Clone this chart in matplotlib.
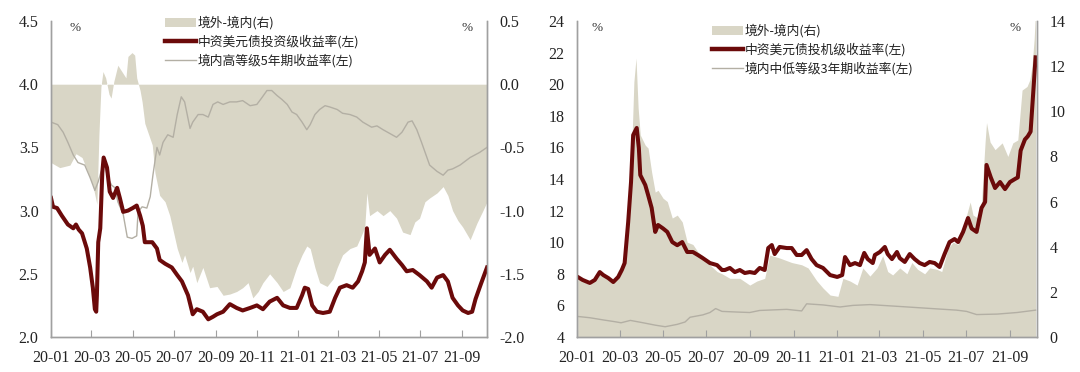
import pandas as pd
import matplotlib.pyplot as plt
import matplotlib.dates as mdates
from matplotlib.patches import Patch
from matplotlib.lines import Line2D

plt.rcParams['axes.unicode_minus'] = False

# --- colours / fonts ---
FILL = '#d9d6c6'
RED = '#6b0a0a'
GRAY = '#b3afa4'
SPINE = '#a0a0a0'
SERIF = 'Liberation Serif'
CJK = ['Noto Sans CJK SC', 'DejaVu Sans']

# --- left panel: investment grade ---
ig_dates = ['2020-01-01', '2020-01-04', '2020-01-10', '2020-01-17', '2020-01-26', '2020-02-03', '2020-02-07',
            '2020-02-11', '2020-02-16', '2020-02-23', '2020-02-28', '2020-03-03', '2020-03-06', '2020-03-08',
            '2020-03-09', '2020-03-11', '2020-03-14', '2020-03-17', '2020-03-19', '2020-03-24', '2020-03-28',
            '2020-04-02', '2020-04-08', '2020-04-12', '2020-04-17', '2020-04-24', '2020-05-01', '2020-05-07',
            '2020-05-12', '2020-05-16', '2020-05-19', '2020-05-30', '2020-06-06', '2020-06-10', '2020-06-18',
            '2020-06-28', '2020-07-06', '2020-07-13', '2020-07-22', '2020-07-29', '2020-08-04', '2020-08-13',
            '2020-08-21', '2020-08-28', '2020-09-03', '2020-09-12', '2020-09-22', '2020-10-02', '2020-10-11',
            '2020-10-22', '2020-11-01', '2020-11-10', '2020-11-20', '2020-12-01', '2020-12-10', '2020-12-20',
            '2020-12-30', '2021-01-07', '2021-01-11', '2021-01-16', '2021-01-22', '2021-01-29', '2021-02-07',
            '2021-02-17', '2021-02-25', '2021-03-04', '2021-03-14', '2021-03-23', '2021-03-31', '2021-04-06',
            '2021-04-10', '2021-04-13', '2021-04-17', '2021-04-25', '2021-05-02', '2021-05-10', '2021-05-17',
            '2021-05-27', '2021-06-04', '2021-06-11', '2021-06-20', '2021-06-30', '2021-07-11', '2021-07-18',
            '2021-07-26', '2021-08-04', '2021-08-11', '2021-08-18', '2021-08-26', '2021-09-02', '2021-09-10',
            '2021-09-16', '2021-09-21', '2021-09-29', '2021-10-08']
ig_yield = [3.10, 3.03, 3.02, 2.96, 2.89, 2.86, 2.89, 2.85, 2.82, 2.70, 2.55, 2.39, 2.22, 2.20, 2.33, 2.75, 2.86,
            3.30, 3.42, 3.34, 3.15, 3.10, 3.18, 3.10, 2.99, 3.00, 3.02, 3.04, 2.96, 2.88, 2.75, 2.75, 2.70, 2.61,
            2.58, 2.55, 2.49, 2.44, 2.33, 2.18, 2.22, 2.20, 2.14, 2.16, 2.18, 2.20, 2.26, 2.23, 2.21, 2.23, 2.25,
            2.22, 2.28, 2.31, 2.25, 2.23, 2.23, 2.33, 2.39, 2.38, 2.25, 2.20, 2.19, 2.20, 2.31, 2.39, 2.41, 2.39,
            2.44, 2.52, 2.59, 2.86, 2.65, 2.70, 2.59, 2.65, 2.69, 2.62, 2.57, 2.52, 2.53, 2.49, 2.44, 2.39, 2.47,
            2.49, 2.44, 2.31, 2.25, 2.21, 2.19, 2.20, 2.30, 2.42, 2.55]

aaa_dates = ['2020-01-01', '2020-01-11', '2020-01-19', '2020-01-26', '2020-02-03', '2020-02-10', '2020-02-20',
             '2020-02-28', '2020-03-06', '2020-03-11', '2020-03-17', '2020-03-21', '2020-03-25', '2020-03-31',
             '2020-04-05', '2020-04-09', '2020-04-17', '2020-04-23', '2020-04-30', '2020-05-07', '2020-05-09',
             '2020-05-15', '2020-05-22', '2020-05-27', '2020-05-31', '2020-06-06', '2020-06-10', '2020-06-15',
             '2020-06-22', '2020-06-30', '2020-07-06', '2020-07-12', '2020-07-17', '2020-07-25', '2020-07-29',
             '2020-08-06', '2020-08-13', '2020-08-21', '2020-08-28', '2020-09-04', '2020-09-12', '2020-09-22',
             '2020-10-02', '2020-10-11', '2020-10-22', '2020-11-01', '2020-11-08', '2020-11-16', '2020-11-23',
             '2020-12-01', '2020-12-08', '2020-12-16', '2020-12-23', '2020-12-30', '2021-01-07', '2021-01-14',
             '2021-01-19', '2021-01-26', '2021-02-02', '2021-02-10', '2021-02-17', '2021-02-28', '2021-03-08',
             '2021-03-19', '2021-03-29', '2021-04-07', '2021-04-20', '2021-04-28', '2021-05-07', '2021-05-17',
             '2021-05-27', '2021-06-04', '2021-06-13', '2021-06-19', '2021-06-26', '2021-07-03', '2021-07-11',
             '2021-07-15', '2021-07-26', '2021-08-04', '2021-08-11', '2021-08-18', '2021-08-29', '2021-09-13',
             '2021-09-27', '2021-10-08']
aaa_yield = [3.70, 3.68, 3.62, 3.54, 3.44, 3.38, 3.36, 3.26, 3.16, 3.23, 3.34, 3.36, 3.26, 3.20, 3.18, 3.07, 2.97,
             2.79, 2.78, 2.80, 2.99, 3.03, 3.02, 3.11, 3.28, 3.50, 3.44, 3.54, 3.60, 3.58, 3.76, 3.90, 3.86, 3.65,
             3.70, 3.76, 3.76, 3.74, 3.84, 3.86, 3.84, 3.86, 3.86, 3.87, 3.83, 3.84, 3.89, 3.95, 3.95, 3.91, 3.88,
             3.84, 3.78, 3.76, 3.70, 3.64, 3.68, 3.76, 3.80, 3.83, 3.82, 3.80, 3.77, 3.76, 3.74, 3.70, 3.66, 3.67,
             3.64, 3.61, 3.58, 3.62, 3.70, 3.71, 3.64, 3.54, 3.42, 3.36, 3.31, 3.28, 3.32, 3.33, 3.36, 3.42, 3.46,
             3.50]

ig_spread_dates = ['2020-01-01', '2020-01-14', '2020-01-29', '2020-02-07', '2020-02-16', '2020-02-25', '2020-03-03',
                   '2020-03-09', '2020-03-12', '2020-03-15', '2020-03-18', '2020-03-22', '2020-03-27', '2020-03-30',
                   '2020-04-03', '2020-04-09', '2020-04-15', '2020-04-21', '2020-04-24', '2020-04-30', '2020-05-04',
                   '2020-05-07', '2020-05-12', '2020-05-15', '2020-05-19', '2020-05-30', '2020-06-03', '2020-06-10',
                   '2020-06-18', '2020-06-25', '2020-07-06', '2020-07-13', '2020-07-17', '2020-07-25', '2020-07-29',
                   '2020-08-04', '2020-08-13', '2020-08-23', '2020-09-03', '2020-09-12', '2020-09-22', '2020-10-02',
                   '2020-10-11', '2020-10-19', '2020-10-26', '2020-11-03', '2020-11-10', '2020-11-20', '2020-12-01',
                   '2020-12-10', '2020-12-20', '2020-12-30', '2021-01-07', '2021-01-14', '2021-01-19', '2021-01-26',
                   '2021-02-02', '2021-02-13', '2021-02-22', '2021-02-28', '2021-03-08', '2021-03-19', '2021-03-29',
                   '2021-04-07', '2021-04-10', '2021-04-13', '2021-04-17', '2021-04-28', '2021-05-07', '2021-05-17',
                   '2021-05-27', '2021-06-05', '2021-06-16', '2021-06-23', '2021-06-30', '2021-07-08', '2021-07-15',
                   '2021-07-26', '2021-08-04', '2021-08-11', '2021-08-18', '2021-08-26', '2021-09-02', '2021-09-13',
                   '2021-09-23', '2021-10-02', '2021-10-08']
ig_spread = [-0.62, -0.66, -0.64, -0.55, -0.58, -0.70, -0.80, -0.95, -0.40, -0.02, 0.10, 0.05, -0.08, -0.11, 0.02,
             0.15, 0.10, 0.05, 0.22, 0.25, 0.23, 0.05, -0.05, -0.14, -0.31, -0.48, -0.70, -0.88, -0.93, -1.04, -1.30,
             -1.41, -1.35, -1.49, -1.44, -1.57, -1.45, -1.61, -1.60, -1.67, -1.66, -1.64, -1.61, -1.57, -1.69, -1.64,
             -1.57, -1.50, -1.57, -1.64, -1.61, -1.45, -1.35, -1.28, -1.30, -1.45, -1.57, -1.60, -1.54, -1.45, -1.35,
             -1.30, -1.28, -1.17, -1.12, -0.86, -1.04, -1.00, -1.04, -1.00, -1.06, -1.17, -1.19, -1.09, -1.06, -0.93,
             -0.90, -0.86, -0.81, -0.88, -1.00, -1.08, -1.13, -1.23, -1.10, -1.00, -0.93]

# --- right panel: high yield ---
hy_dates = ['2020-01-02', '2020-01-09', '2020-01-19', '2020-01-26', '2020-02-02', '2020-02-07', '2020-02-14',
            '2020-02-21', '2020-02-28', '2020-03-04', '2020-03-08', '2020-03-13', '2020-03-17', '2020-03-20',
            '2020-03-25', '2020-03-28', '2020-03-30', '2020-04-06', '2020-04-10', '2020-04-15', '2020-04-20',
            '2020-04-24', '2020-05-01', '2020-05-07', '2020-05-14', '2020-05-21', '2020-05-28', '2020-06-04',
            '2020-06-12', '2020-06-19', '2020-06-26', '2020-07-06', '2020-07-16', '2020-07-23', '2020-07-27',
            '2020-08-03', '2020-08-10', '2020-08-17', '2020-08-24', '2020-08-31', '2020-09-07', '2020-09-14',
            '2020-09-21', '2020-09-26', '2020-10-01', '2020-10-05', '2020-10-12', '2020-10-22', '2020-10-29',
            '2020-11-05', '2020-11-12', '2020-11-19', '2020-11-26', '2020-12-03', '2020-12-12', '2020-12-22',
            '2021-01-01', '2021-01-08', '2021-01-12', '2021-01-19', '2021-01-26', '2021-02-02', '2021-02-08',
            '2021-02-13', '2021-02-20', '2021-02-23', '2021-03-02', '2021-03-09', '2021-03-13', '2021-03-19',
            '2021-03-26', '2021-03-30', '2021-04-06', '2021-04-13', '2021-04-20', '2021-04-27', '2021-05-04',
            '2021-05-11', '2021-05-18', '2021-05-25', '2021-06-01', '2021-06-08', '2021-06-15', '2021-06-20',
            '2021-06-27', '2021-07-04', '2021-07-09', '2021-07-16', '2021-07-23', '2021-07-28', '2021-07-30',
            '2021-08-05', '2021-08-11', '2021-08-18', '2021-08-25', '2021-09-01', '2021-09-08', '2021-09-12',
            '2021-09-16', '2021-09-22', '2021-09-26', '2021-09-30', '2021-10-03', '2021-10-07']
hy_yield = [7.80, 7.61, 7.42, 7.61, 8.11, 7.92, 7.73, 7.48, 7.80, 8.24, 8.68, 11.28, 13.81, 16.78, 17.23, 15.96,
            14.25, 13.62, 12.99, 12.17, 10.65, 11.09, 10.87, 10.65, 10.01, 9.81, 10.01, 9.38, 9.38, 9.19, 8.99, 8.68,
            8.55, 8.24, 8.24, 8.37, 8.11, 8.24, 8.05, 8.11, 8.05, 8.37, 8.24, 9.63, 9.82, 9.25, 9.70, 9.63, 9.63,
            9.19, 9.19, 9.50, 8.93, 8.55, 8.37, 7.92, 7.80, 7.92, 9.06, 8.55, 8.68, 8.55, 9.32, 8.93, 8.68, 9.19,
            9.38, 9.70, 9.25, 8.93, 9.38, 8.99, 8.75, 9.25, 8.93, 8.68, 8.55, 8.75, 8.68, 8.43, 9.25, 10.01, 10.20,
            10.01, 10.65, 11.53, 10.87, 10.65, 12.17, 12.55, 14.89, 14.10, 13.43, 13.81, 13.36, 13.81, 14.00, 14.10,
            15.80, 16.50, 16.70, 17.00, 19.00, 21.70]

low_dates = ['2020-01-02', '2020-01-19', '2020-02-07', '2020-02-23', '2020-03-03', '2020-03-16', '2020-04-03',
             '2020-04-20', '2020-05-04', '2020-05-21', '2020-06-01', '2020-06-08', '2020-06-26', '2020-07-06',
             '2020-07-14', '2020-07-23', '2020-08-13', '2020-08-31', '2020-09-14', '2020-10-22', '2020-11-12',
             '2020-11-19', '2020-12-12', '2021-01-05', '2021-01-23', '2021-02-16', '2021-04-03', '2021-05-21',
             '2021-06-18', '2021-07-02', '2021-07-16', '2021-08-14', '2021-09-11', '2021-10-07']
low_yield = [5.30, 5.22, 5.08, 4.97, 4.90, 5.05, 4.90, 4.75, 4.65, 4.80, 4.95, 5.25, 5.40, 5.55, 5.80, 5.62, 5.58,
             5.55, 5.68, 5.75, 5.65, 6.10, 6.03, 5.90, 6.00, 6.05, 5.92, 5.78, 5.70, 5.62, 5.42, 5.45, 5.55, 5.70]

hy_spread_dates = ['2020-01-02', '2020-01-19', '2020-02-02', '2020-02-21', '2020-02-28', '2020-03-08', '2020-03-13',
                   '2020-03-18', '2020-03-21', '2020-03-24', '2020-03-27', '2020-03-30', '2020-04-06', '2020-04-10',
                   '2020-04-15', '2020-04-20', '2020-04-24', '2020-05-01', '2020-05-07', '2020-05-14', '2020-05-21',
                   '2020-05-28', '2020-06-04', '2020-06-12', '2020-06-19', '2020-06-26', '2020-07-06', '2020-07-16',
                   '2020-07-23', '2020-08-03', '2020-08-17', '2020-08-31', '2020-09-10', '2020-09-21', '2020-09-28',
                   '2020-10-12', '2020-10-29', '2020-11-12', '2020-11-21', '2020-12-03', '2020-12-12', '2020-12-22',
                   '2021-01-02', '2021-01-09', '2021-01-19', '2021-01-29', '2021-02-06', '2021-02-16', '2021-02-26',
                   '2021-03-06', '2021-03-13', '2021-03-20', '2021-03-30', '2021-04-09', '2021-04-16', '2021-04-24',
                   '2021-05-04', '2021-05-11', '2021-05-21', '2021-05-28', '2021-06-06', '2021-06-13', '2021-06-20',
                   '2021-06-27', '2021-07-07', '2021-07-11', '2021-07-18', '2021-07-23', '2021-07-28', '2021-07-30',
                   '2021-08-04', '2021-08-11', '2021-08-21', '2021-08-29', '2021-09-05', '2021-09-12', '2021-09-18',
                   '2021-09-25', '2021-09-29', '2021-10-02', '2021-10-05', '2021-10-07']
hy_spread = [2.60, 2.30, 2.90, 2.45, 2.95, 3.32, 5.40, 8.37, 11.30, 12.36, 10.15, 8.95, 8.50, 8.37, 7.30, 6.42,
             6.50, 6.15, 6.00, 5.27, 5.40, 5.10, 4.20, 4.10, 3.77, 3.60, 3.19, 2.90, 2.80, 2.60, 2.60, 2.30, 2.48,
             2.60, 3.63, 3.50, 3.30, 3.20, 3.06, 2.50, 2.17, 1.86, 1.80, 2.60, 2.48, 2.30, 3.06, 2.70, 3.06, 3.60,
             2.90, 2.75, 3.06, 2.80, 3.30, 3.00, 2.80, 3.06, 3.00, 2.90, 3.94, 4.20, 4.10, 4.83, 5.98, 5.40, 5.27,
             5.98, 8.64, 9.50, 8.64, 8.30, 8.60, 8.00, 8.60, 8.73, 10.94, 11.10, 11.40, 12.00, 13.20, 14.50]

left_ticks = [2.0, 2.5, 3.0, 3.5, 4.0, 4.5]
left_ticks_r = [-2.0, -1.5, -1.0, -0.5, 0.0, 0.5]
right_ticks = [4, 6, 8, 10, 12, 14, 16, 18, 20, 22, 24]
right_ticks_r = [0, 2, 4, 6, 8, 10, 12, 14]

panels = [
    dict(rect=[51 / 1080, 35 / 372, 436 / 1080, 316 / 372], end='2021-10-08',
         spread_dates=ig_spread_dates, spread=ig_spread,
         red_dates=ig_dates, red=ig_yield, gray_dates=aaa_dates, gray=aaa_yield,
         yl=left_ticks, yr=left_ticks_r, fmt='%.1f',
         labels=['境外-境内(右)', '中资美元债投资级收益率(左)', '境内高等级5年期收益率(左)'],
         leg_xy=(165 / 1080, 1 - 16 / 372), pct=(75, 467)),
    dict(rect=[577 / 1080, 35 / 372, 460 / 1080, 316 / 372], end='2021-10-09',
         spread_dates=hy_spread_dates, spread=hy_spread,
         red_dates=hy_dates, red=hy_yield, gray_dates=low_dates, gray=low_yield,
         yl=right_ticks, yr=right_ticks_r, fmt='%d',
         labels=['境外-境内(右)', '中资美元债投机级收益率(左)', '境内中低等级3年期收益率(左)'],
         leg_xy=(712 / 1080, 1 - 24 / 372), pct=(597, 1015)),
]

fig = plt.figure(figsize=(10.8, 3.72), dpi=100, facecolor='white')

for p in panels:
    ax = fig.add_axes(p['rect'])
    axr = ax.twinx()
    # lines on top of the spread area
    ax.set_zorder(axr.get_zorder() + 1)
    ax.patch.set_visible(False)

    axr.fill_between(pd.to_datetime(p['spread_dates']), 0, p['spread'], color=FILL, lw=0)
    ax.plot(pd.to_datetime(p['gray_dates']), p['gray'], color=GRAY, lw=1.0)
    ax.plot(pd.to_datetime(p['red_dates']), p['red'], color=RED, lw=2.9, solid_joinstyle='round')

    ax.set_xlim(pd.Timestamp('2020-01-01'), pd.Timestamp(p['end']))
    ax.set_ylim(p['yl'][0], p['yl'][-1])
    axr.set_ylim(p['yr'][0], p['yr'][-1])
    ax.set_yticks(p['yl'])
    axr.set_yticks(p['yr'])
    ax.yaxis.set_major_formatter(plt.FormatStrFormatter(p['fmt']))
    axr.yaxis.set_major_formatter(plt.FormatStrFormatter(p['fmt']))

    ax.xaxis.set_major_locator(mdates.MonthLocator(bymonth=[1, 3, 5, 7, 9, 11]))
    ax.xaxis.set_major_formatter(mdates.DateFormatter('%y-%m'))

    for a in (ax, axr):
        a.spines['top'].set_visible(False)
        for s in ('left', 'right', 'bottom'):
            a.spines[s].set_color(SPINE)
            a.spines[s].set_linewidth(1.0)
        a.tick_params(axis='y', length=0, pad=9, labelsize=11.5, labelcolor='#222222')
        for lab in a.get_yticklabels():
            lab.set_fontfamily(SERIF)
    ax.tick_params(axis='x', direction='in', length=5, width=0.8, color=SPINE,
                   pad=9, labelsize=11.5, labelcolor='#222222')
    for lab in ax.get_xticklabels():
        lab.set_fontfamily(SERIF)

    # "%" unit marks
    for px in p['pct']:
        fig.text(px / 1080, 1 - 28 / 372, '%', ha='center', va='center',
                 fontsize=9.5, family=SERIF, color='#333333')

    handles = [Patch(facecolor=FILL, edgecolor='none'),
               Line2D([], [], color=RED, lw=3.2),
               Line2D([], [], color=GRAY, lw=1.0)]
    ax.legend(handles, p['labels'], loc='upper left', bbox_to_anchor=p['leg_xy'],
              bbox_transform=fig.transFigure, frameon=False, borderpad=0, borderaxespad=0,
              handlelength=2.4, handleheight=0.7, handletextpad=0.15, labelspacing=0.4,
              prop={'family': CJK, 'size': 9.2}, labelcolor='#222222')

plt.savefig('out.png', dpi=100, facecolor=fig.get_facecolor())
